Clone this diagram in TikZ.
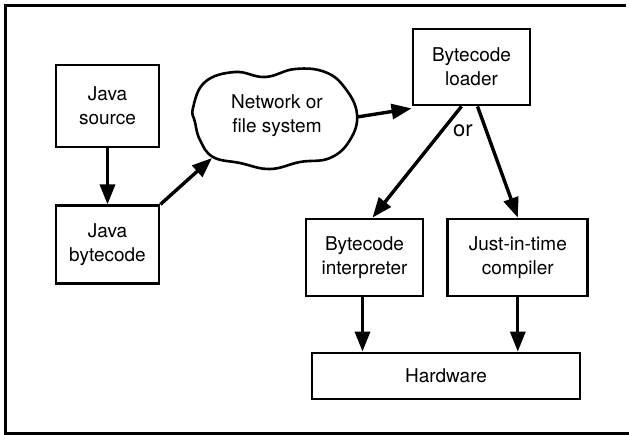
\documentclass[tikz,border=0pt]{standalone}
\usepackage{fontspec}
\setmainfont{TeX Gyre Heros}
\usepackage{tikz}
\usetikzlibrary{arrows.meta,positioning,calc}

\begin{document}
\begin{tikzpicture}[x=0.5pt,y=-0.5pt,
        box/.style={rectangle, draw, line width=1.4pt, align=center, inner sep=2pt,
          font=\fontsize{9.5}{12}\selectfont},
        >={Triangle[length=10pt,width=7.5pt]},
        conn/.style={->, line width=1.7pt}]
        \useasboundingbox (0,0) rectangle (629,435);
        % frame, open on the right
        \fill (4.5,3.5) rectangle (626,6.8);
        \fill (4.5,3.5) rectangle (7.5,434.5);
        \fill (4.5,431.5) rectangle (629,434.5);

        \node[box, minimum width=51.5pt, minimum height=41pt] (src) at (107.5,106) {Java\\source};
        \node[box, minimum width=51.5pt, minimum height=39pt, below = 28pt of src] (bc) {Java\\bytecode};
        \node[align=center, font=\fontsize{9.5}{12}\selectfont] (net) at (277,116) {Network or\\file system};
        \draw[line width=1.3pt] plot[smooth cycle, tension=0.7] coordinates {
          (193,108) (205,82) (235,72) (265,77) (295,69) (325,72) (345,88) (357,114)
          (350,140) (330,158) (300,162) (270,169) (240,163) (213,157) (200,140) (195,122)};
        \coordinate (netin) at (212,158);
        \coordinate (netout) at (357,117);
        \node[box, minimum width=58.5pt, minimum height=38pt] (loader) at (471.5,67) {Bytecode\\loader};
        \node[box, minimum width=58.5pt, minimum height=38.5pt] (interp) at (364.5,257.5) {Bytecode\\interpreter};
        \node[box, minimum width=70pt, minimum height=38.5pt, right = 11pt of interp] (jit) {Just-in-time\\compiler};
        \node[box, minimum width=134pt, minimum height=23pt] (hw) at (446,376) {Hardware};
        \node[font=\fontsize{11}{13}\selectfont] (or) at (463,131) {or};
        \coordinate (ioutl) at ($(interp.south)+(-2,0)$);

        \draw[conn] (src) -- (bc);
        \draw[conn] (bc.north east) -- (netin);
        \draw[conn] (netout) -- ($(loader.south west)+(0,2)$);
        \draw[conn] ($(loader.south)+(-10,0)$) -- ($(interp.north)+(8,0)$);
        \draw[conn] ($(loader.south)+(6,0)$) -- (jit.north);
        \draw[conn] (ioutl) -- (ioutl |- hw.north);
        \draw[conn] (jit.south) -- (jit.south |- hw.north);
      \end{tikzpicture}
\end{document}
